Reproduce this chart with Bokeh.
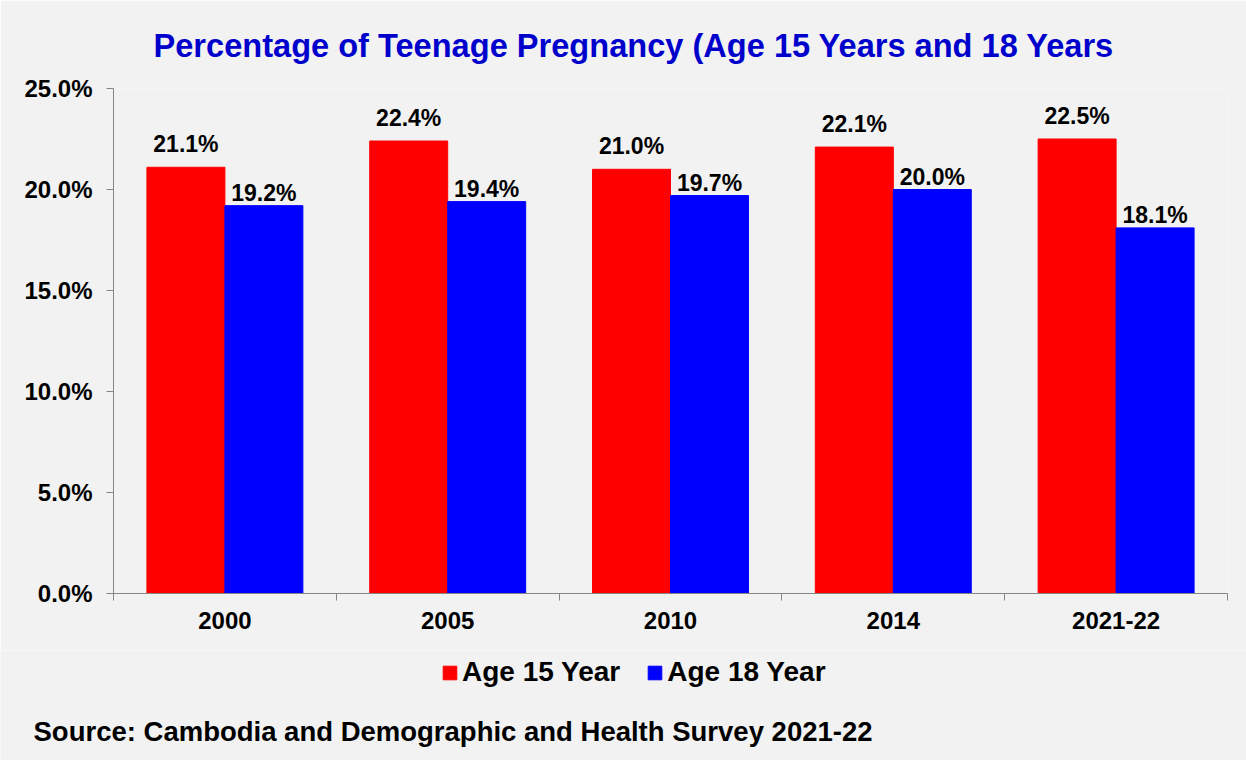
from bokeh.plotting import figure
from bokeh.models import (ColumnDataSource, FixedTicker, LabelSet, Label, Legend, LegendItem,
                          CustomJSTickFormatter)
from bokeh.layouts import column
from bokeh.core.properties import value
from bokeh.embed import file_html
from bokeh.resources import INLINE

categories = ["2000", "2005", "2010", "2014", "2021-22"]
age15 = [21.1, 22.4, 21.0, 22.1, 22.5]
age18 = [19.2, 19.4, 19.7, 20.0, 18.1]
series_names = ["Age 15 Year", "Age 18 Year"]
colors = ["#FF0000", "#0000FF"]
y_ticks = [0, 5, 10, 15, 20, 25]

FONT = "Liberation Sans"
BG = "#f2f2f2"

n = len(categories)
centers = [i + 0.5 for i in range(n)]
bw = 0.35

src15 = ColumnDataSource(dict(x=[c - bw / 2 for c in centers], top=age15,
                              lab=[f"{v:.1f}%" for v in age15]))
src18 = ColumnDataSource(dict(x=[c + bw / 2 for c in centers], top=age18,
                              lab=[f"{v:.1f}%" for v in age18]))

p = figure(width=1246, height=650, x_range=(0, n), y_range=(0, 25),
           output_backend="svg", toolbar_location=None,
           min_border_left=113, min_border_right=19, min_border_top=88, min_border_bottom=57,
           background_fill_color=BG, border_fill_color=BG)
p.frame_align = False
p.outline_line_color = None
p.xgrid.visible = False
p.ygrid.visible = False

p.title.text = "Percentage of Teenage Pregnancy (Age 15 Years and 18 Years"
p.title.align = "left"
p.title.offset = 40
p.title.text_font = FONT
p.title.text_font_style = "bold"
p.title.text_font_size = "32.6px"
p.title.text_color = "#0000CC"
p.title.standoff = 49

p.vbar(x="x", top="top", width=bw, bottom=0, source=src15, color=colors[0])
p.vbar(x="x", top="top", width=bw, bottom=0, source=src18, color=colors[1])

for src, off in ((src15, 10), (src18, 0)):
    p.add_layout(LabelSet(x="x", y="top", text="lab", source=src, y_offset=off,
                          text_align="center", text_baseline="bottom",
                          text_font=value(FONT), text_font_style="bold",
                          text_font_size="23px", text_color="#000000"))

# y axis
ya = p.yaxis[0]
ya.ticker = FixedTicker(ticks=y_ticks)
ya.formatter = CustomJSTickFormatter(code="return tick.toFixed(1) + '%';")
ya.axis_line_color = "#868686"
ya.major_tick_line_color = "#868686"
ya.major_tick_out = 7
ya.major_tick_in = 0
ya.minor_tick_line_color = None
ya.major_label_text_font = FONT
ya.major_label_text_font_style = "bold"
ya.major_label_text_font_size = "24px"
ya.major_label_text_color = "#000000"
ya.major_label_standoff = 14

# x axis: labels at centres, ticks at boundaries
xa = p.xaxis[0]
xa.ticker = FixedTicker(ticks=centers, minor_ticks=list(range(n + 1)))
xa.major_label_overrides = {c: cat for c, cat in zip(centers, categories)}
xa.axis_line_color = "#868686"
xa.major_tick_line_color = None
xa.minor_tick_line_color = "#868686"
xa.minor_tick_out = 7
xa.minor_tick_in = 0
xa.major_label_text_font = FONT
xa.major_label_text_font_style = "bold"
xa.major_label_text_font_size = "24px"
xa.major_label_text_color = "#000000"
xa.major_label_standoff = 11

# lower strip: legend + source note
p2 = figure(width=1246, height=110, x_range=(0, 1), y_range=(0, 1),
            output_backend="svg", toolbar_location=None,
            min_border_left=0, min_border_right=0, min_border_top=0, min_border_bottom=0,
            background_fill_color=BG, border_fill_color=BG)
p2.frame_align = False
p2.outline_line_color = None
p2.axis.visible = False
p2.grid.visible = False
# legend swatches only (points lie outside the visible range)
swatch = ColumnDataSource(dict(x=[-5], top=[-5]))
lr = [p2.vbar(x="x", top="top", bottom=-6, width=0.1, source=swatch, color=c) for c in colors]

legend = Legend(items=[LegendItem(label=s, renderers=[r]) for s, r in zip(series_names, lr)],
                orientation="horizontal", location=(441, 72),
                background_fill_alpha=0, border_line_color=None,
                label_text_font=FONT, label_text_font_style="bold",
                label_text_font_size="28px", label_text_color="#000000",
                glyph_width=17, glyph_height=17, label_standoff=4, spacing=26,
                padding=0, margin=0)
p2.add_layout(legend)

p2.add_layout(Label(x=33, y=29, x_units="screen", y_units="screen",
                    text="Source: Cambodia and Demographic and Health Survey 2021-22",
                    text_font=FONT, text_font_style="bold", text_font_size="27.5px",
                    text_color="#000000", text_baseline="middle"))

layout = column(p, p2, spacing=0)
open("out.html", "w").write(file_html(layout, INLINE))
